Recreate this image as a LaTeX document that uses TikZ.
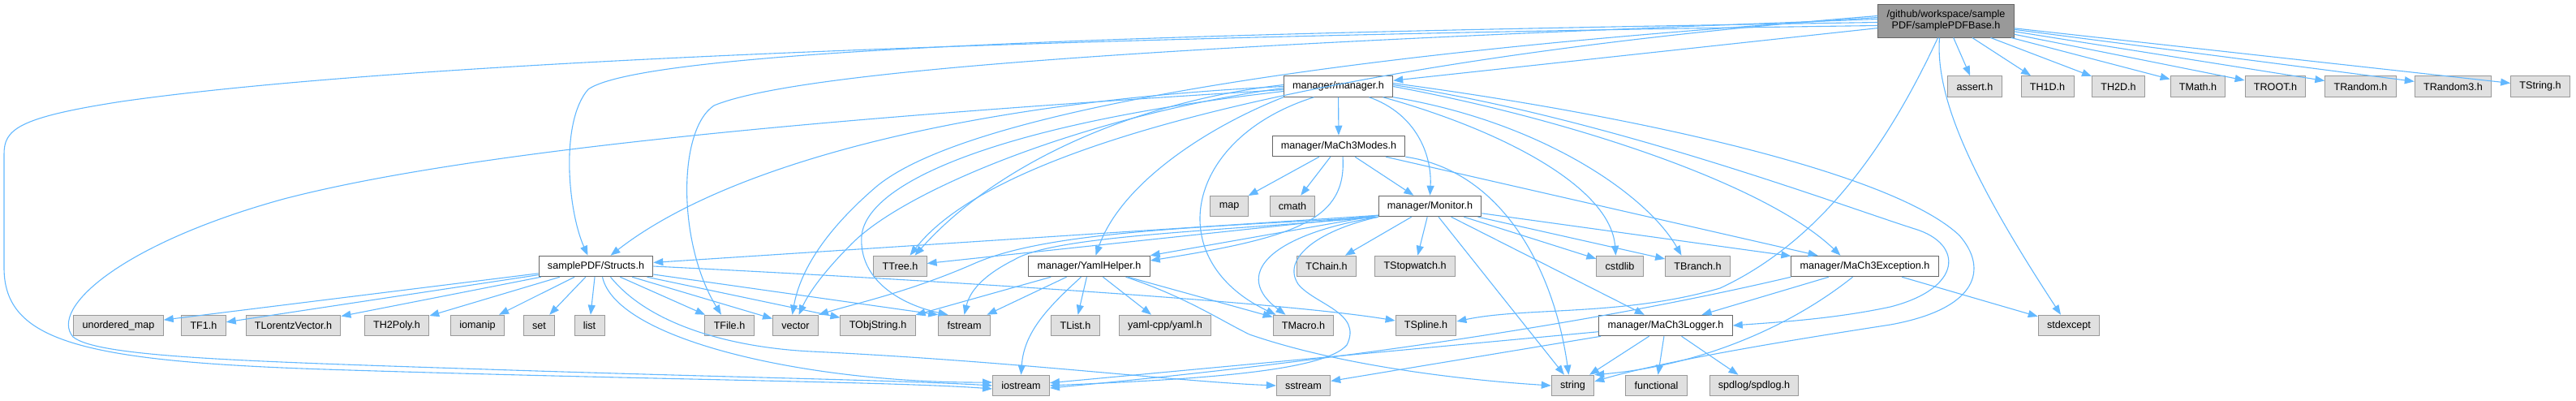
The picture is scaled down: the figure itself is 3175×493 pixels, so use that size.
\documentclass[tikz,border=0pt]{standalone}
\usepackage{fontspec}
\setmainfont{Liberation Sans}
\usetikzlibrary{arrows.meta}
\definecolor{inclblue}{HTML}{63B8FF}
\definecolor{leaffill}{HTML}{E0E0E0}
\definecolor{leafline}{HTML}{999999}
\definecolor{docline}{HTML}{666666}
\definecolor{rootfill}{HTML}{999999}

\begin{document}
\begin{tikzpicture}[x=1pt,y=-1pt,
  filebox/.style={draw, rectangle, line width=1pt, minimum height=25.5pt, inner xsep=10.8pt, inner ysep=1pt, font=\fontsize{12.6}{14.3}\selectfont, text=black},
  leaf/.style={filebox, fill=leaffill, draw=leafline},
  doc/.style={filebox, fill=white, draw=docline},
  rootbox/.style={filebox, fill=rootfill, draw=docline, align=center, minimum height=41pt},
  incl/.style={draw=inclblue, line width=1.1pt, -{Triangle[length=12pt,width=9pt]}}]
\useasboundingbox (0,0) rectangle (3175,493);
\node[rootbox] (base) at (2398.5,25.5) {/github/workspace/sample\\PDF/samplePDFBase.h};
\node[doc] (manager) at (1649.5,106.5) {manager/manager.h};
\node[leaf] (assert) at (2434,106.5) {assert.h};
\node[leaf] (thoned) at (2523.5,106.5) {TH1D.h};
\node[leaf] (thtwod) at (2611,106.5) {TH2D.h};
\node[leaf] (tmath) at (2709,106.5) {TMath.h};
\node[leaf] (troot) at (2804.5,106.5) {TROOT.h};
\node[leaf] (trandom) at (2909.5,106.5) {TRandom.h};
\node[leaf] (trandomthree) at (3023.5,106.5) {TRandom3.h};
\node[leaf] (tstring) at (3131,106.5) {TString.h};
\node[doc] (modes) at (1650,180) {manager/MaCh3Modes.h};
\node[leaf] (map) at (1515,254) {map};
\node[leaf] (cmath) at (1593,254) {cmath};
\node[doc] (monitor) at (1762.5,254) {manager/Monitor.h};
\node[doc] (structs) at (734.5,328) {samplePDF/Structs.h};
\node[leaf] (ttree) at (1109.5,328) {TTree.h};
\node[doc] (yaml) at (1342.5,328) {manager/YamlHelper.h};
\node[leaf] (tchain) at (1635,328) {TChain.h};
\node[leaf] (tstopwatch) at (1744,328) {TStopwatch.h};
\node[leaf] (cstdlib) at (1996.5,328) {cstdlib};
\node[leaf] (tbranch) at (2092.5,328) {TBranch.h};
\node[doc] (excpt) at (2298.5,328) {manager/MaCh3Exception.h};
\node[leaf] (umap) at (146,401) {unordered\_map};
\node[leaf] (tfone) at (251,401) {TF1.h};
\node[leaf] (tlorentz) at (361.5,401) {TLorentzVector.h};
\node[leaf] (thpoly) at (489,401) {TH2Poly.h};
\node[leaf] (iomanip) at (588.5,401) {iomanip};
\node[leaf] (stdset) at (664.5,401) {set};
\node[leaf] (stdlist) at (726.5,401) {list};
\node[leaf] (tfile) at (899,401) {TFile.h};
\node[leaf] (vector) at (980.5,401) {vector};
\node[leaf] (tobjstring) at (1082,401) {TObjString.h};
\node[leaf] (fstream) at (1188.5,401) {fstream};
\node[leaf] (tlist) at (1325.5,401) {TList.h};
\node[leaf] (yamlcpp) at (1436,401) {yaml-cpp/yaml.h};
\node[leaf] (tmacro) at (1606.5,401) {TMacro.h};
\node[leaf] (tspline) at (1757.5,401) {TSpline.h};
\node[doc] (logger) at (2053,401) {manager/MaCh3Logger.h};
\node[leaf] (stdexcept) at (2550,401) {stdexcept};
\node[leaf] (iostream) at (1258.5,475) {iostream};
\node[leaf] (sstream) at (1606.5,475) {sstream};
\node[leaf] (string) at (1938.5,475) {string};
\node[leaf] (functional) at (2041.5,475) {functional};
\node[leaf] (spdlog) at (2162,475) {spdlog/spdlog.h};
\draw[incl] (base) -- (manager);
\draw[incl] (base) -- (assert);
\draw[incl] (base) -- (thoned);
\draw[incl] (base) -- (thtwod);
\draw[incl] (base) -- (tmath);
\draw[incl] (base) -- (troot);
\draw[incl] (base) -- (trandom);
\draw[incl] (base) -- (trandomthree);
\draw[incl] (base) -- (tstring);
\draw[incl] ([yshift=-6pt]base.west) .. controls (1300,45) and (500,75) .. (150,125) .. controls (20,145) and (5,160) .. (5,190) -- (5,330) .. controls (5,420) and (100,445) .. (400,455) .. controls (800,468) and (1100,470) .. ([yshift=-4pt]iostream.west);
\draw[incl] ([yshift=-2pt]base.west) .. controls (1500,40) and (800,58) .. (725,110) .. controls (690,150) and (700,260) .. ([xshift=-10pt]structs.north);
\draw[incl] ([yshift=2pt]base.west) .. controls (1600,50) and (1000,80) .. (880,130) .. controls (835,160) and (835,300) .. ([xshift=-10pt]tfile.north);
\draw[incl] ([yshift=4pt]base.west) .. controls (1700,60) and (1200,130) .. (1080,230) .. controls (1010,290) and (985,340) .. ([xshift=-4pt]vector.north);
\draw[incl] ([yshift=6pt]base.west) .. controls (1800,60) and (1250,150) .. ([xshift=12pt]ttree.north);
\draw[incl] ([xshift=-8pt]base.south) .. controls (2385,120) and (2430,220) .. ([xshift=-10pt]stdexcept.north);
\draw[incl] ([xshift=-10pt]base.south) .. controls (2340,150) and (2260,290) .. (2120,355) .. controls (2000,390) and (1880,378) .. ([yshift=5pt]tspline.east);
\draw[incl] (manager) -- (modes);
\draw[incl] ([xshift=38pt]manager.south) .. controls (1745,140) and (1765,190) .. (monitor.north);
\draw[incl] ([yshift=-4pt]manager.west) .. controls (1100,140) and (600,180) .. (350,245) .. controls (150,300) and (60,380) .. (90,415) .. controls (120,440) and (300,445) .. (600,455) .. controls (900,465) and (1100,468) .. (iostream.west);
\draw[incl] (manager.west) .. controls (1200,125) and (900,200) .. ([xshift=18pt]structs.north);
\draw[incl] ([yshift=2pt]manager.west) .. controls (1400,125) and (1230,200) .. ([xshift=18pt]ttree.north);
\draw[incl] ([yshift=-2pt]manager.west) .. controls (1350,140) and (1120,230) .. (1050,300) .. controls (1010,340) and (995,365) .. ([xshift=4pt]vector.north);
\draw[incl] ([yshift=-6pt]manager.west) .. controls (1250,150) and (1070,220) .. (1062,290) .. controls (1058,345) and (1110,375) .. ([xshift=-20pt]fstream.north);
\draw[incl] (manager.south west) .. controls (1480,160) and (1380,230) .. ([xshift=8pt]yaml.north);
\draw[incl] ([xshift=-30pt]manager.south) .. controls (1460,170) and (1430,320) .. ([xshift=-34pt]tmacro.north);
\draw[incl] ([xshift=55pt]manager.south) .. controls (1850,160) and (1985,230) .. ([xshift=-5pt]cstdlib.north);
\draw[incl] (manager.south east) .. controls (1900,150) and (2030,240) .. ([xshift=-20pt]tbranch.north);
\draw[incl] (manager.east) .. controls (1950,150) and (2180,230) .. ([xshift=-30pt]excpt.north);
\draw[incl] ([yshift=2pt]manager.east) .. controls (1980,145) and (2260,250) .. (2360,282) .. controls (2420,300) and (2420,355) .. (2330,378) .. controls (2260,393) and (2190,397) .. (logger.east);
\draw[incl] ([yshift=4pt]manager.east) .. controls (2000,140) and (2330,210) .. (2415,290) .. controls (2450,330) and (2440,380) .. (2330,400) .. controls (2200,420) and (2050,445) .. ([yshift=5pt]string.east);
\draw[incl] (modes) -- (map);
\draw[incl] (modes) -- (cmath);
\draw[incl] (modes) -- (monitor);
\draw[incl] (modes) -- (excpt);
\draw[incl] ([xshift=5pt]modes.south) .. controls (1660,270) and (1600,292) .. ([yshift=7pt]yaml.east);
\draw[incl] (modes.south east) .. controls (1850,210) and (1915,330) .. ([xshift=-5pt]string.north);
\draw[incl] ([yshift=2pt]monitor.south west) -- (structs);
\draw[incl] ([yshift=2pt]monitor.south west) -- (ttree);
\draw[incl] ([yshift=2pt]monitor.south west) -- (yaml);
\draw[incl] (monitor) -- (tchain);
\draw[incl] (monitor) -- (tstopwatch);
\draw[incl] (monitor) -- (cstdlib);
\draw[incl] (monitor) -- (tbranch);
\draw[incl] (monitor) -- (excpt);
\draw[incl] (monitor) -- (logger);
\draw[incl] (monitor) -- (string);
\draw[incl] (monitor.south west) .. controls (1480,280) and (1290,285) .. (1200,325) .. controls (1120,360) and (1050,375) .. (vector.north east);
\draw[incl] (monitor.south west) .. controls (1500,285) and (1300,290) .. (1250,320) .. controls (1210,340) and (1195,360) .. (fstream.north);
\draw[incl] (monitor.south west) .. controls (1560,290) and (1520,340) .. ([xshift=-22pt]tmacro.north);
\draw[incl] (monitor.south west) .. controls (1620,285) and (1580,320) .. (1600,350) .. controls (1620,375) and (1680,385) .. (1660,425) .. controls (1630,460) and (1450,468) .. (iostream.east);
\draw[incl] (yaml) -- (tobjstring);
\draw[incl] (yaml) -- (fstream);
\draw[incl] (yaml) -- (tlist);
\draw[incl] (yaml) -- (yamlcpp);
\draw[incl] (yaml) -- (tmacro);
\draw[incl] ([xshift=-10pt]yaml.south) .. controls (1290,380) and (1262,410) .. (iostream.north);
\draw[incl] ([xshift=45pt]yaml.south) .. controls (1460,365) and (1505,395) .. (1540,412) .. controls (1650,450) and (1800,468) .. (string.west);
\draw[incl] (structs) -- (umap);
\draw[incl] (structs) -- (tfone);
\draw[incl] (structs) -- (tlorentz);
\draw[incl] (structs) -- (thpoly);
\draw[incl] (structs) -- (iomanip);
\draw[incl] (structs) -- (stdset);
\draw[incl] (structs) -- (stdlist);
\draw[incl] (structs) -- (tfile);
\draw[incl] (structs) -- (vector);
\draw[incl] (structs) -- (tobjstring);
\draw[incl] (structs) -- (fstream.north west);
\draw[incl] (structs.east) .. controls (1150,345) and (1580,372) .. ([yshift=6pt]tspline.west);
\draw[incl] ([xshift=8pt]structs.south) .. controls (760,420) and (1000,472) .. ([yshift=4pt]iostream.west);
\draw[incl] ([xshift=18pt]structs.south) .. controls (800,400) and (900,428) .. (1000,433) .. controls (1250,445) and (1450,470) .. (sstream.west);
\draw[incl] (excpt) -- (logger);
\draw[incl] (excpt) -- (stdexcept);
\draw[incl] ([xshift=-15pt]excpt.south) .. controls (2210,400) and (2100,450) .. (string.north east);
\draw[incl] (excpt.south west) .. controls (2000,390) and (1700,440) .. ([yshift=-3pt]iostream.east);
\draw[incl] (logger) -- (string);
\draw[incl] (logger) -- (functional);
\draw[incl] (logger) -- (spdlog);
\draw[incl] (logger) -- (sstream);
\draw[incl] (logger) -- (iostream);
\end{tikzpicture}
\end{document}
